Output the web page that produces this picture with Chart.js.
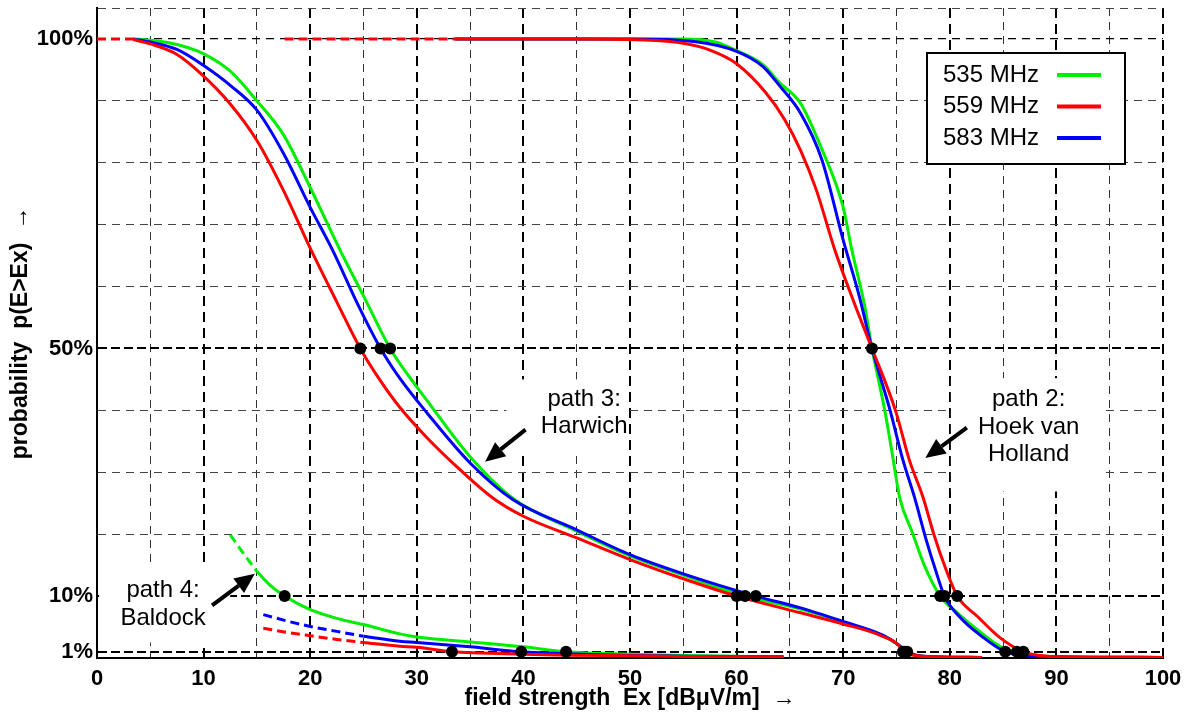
<!DOCTYPE html>
<html>
<head>
<meta charset="utf-8">
<script src="https://cdn.jsdelivr.net/npm/chart.js@4.4.0/dist/chart.umd.min.js"></script>
<style>
  html, body { margin: 0; padding: 0; background: #fff; }
  #c { display: block; }
</style>
</head>
<body>
<canvas id="c" width="1184" height="713"></canvas>
<script>
// [field strength dBuV/m, probability %]

// path 3: Harwich
const harwich559Dash = [[0, 100], [3.4, 100]];
const harwich559 = [[3.4, 99.9], [5, 99.2], [7.5, 97.5], [10, 94], [12.5, 89.5], [15, 83.6], [17.5, 75.5], [20, 66.2], [22.5, 57.5], [24.7, 50], [26.5, 45], [28.4, 40.5], [31, 35.5], [34, 30.5], [37.1, 25.9], [40, 22.9], [45, 19.4], [50, 15.9], [55, 12.8], [60, 10], [66, 7.3], [70, 5.5], [73.7, 3.5], [75.3, 1.9], [75.6, 1], [77.5, 0.3], [83, 0.1]];
const harwich583 = [[3.4, 100], [5, 99.5], [7.5, 98.3], [10, 95.7], [12.5, 92.5], [15, 88.5], [17.5, 81.5], [20, 72.8], [22.1, 65.9], [24.5, 57], [26.6, 50], [28.4, 45.2], [31, 39.5], [35, 31.5], [39, 25.6], [45, 20.7], [50, 16.7], [55, 13.6], [61.8, 10], [66, 8.1], [70, 5.9], [73.7, 3.7], [75.3, 2], [76, 1], [77.5, 0.3], [83, 0.1]];
const harwich535 = [[3.4, 100], [5, 99.8], [7.5, 99.1], [10, 97.6], [12.5, 94.8], [15, 90], [17.5, 84.5], [20, 76], [22.8, 65.9], [25, 58.5], [27.5, 50], [28.4, 47.6], [31, 41.5], [35, 32.5], [39, 25.8], [45, 20.5], [50, 16.5], [55, 13.4], [60.8, 10], [66, 7.9], [70, 5.8], [73.7, 3.6], [75.3, 1.9], [75.8, 1], [77.5, 0.3], [83, 0.1]];

// path 2: Hoek van Holland
const hoek559Dash = [[17.6, 100], [33.6, 100]];
const hoek559 = [[33.6, 100], [45, 100], [52, 99.8], [55, 99.3], [57.5, 98.2], [60, 96], [62.8, 91.2], [64.5, 87], [66, 82], [67.5, 75.5], [69.2, 66], [71, 57.5], [72.7, 50], [74.9, 40], [76.2, 32], [77.5, 25.9], [78.5, 20], [79.6, 14.5], [80.7, 10], [82.6, 6.7], [84.7, 3.3], [86.9, 1], [88.5, 0.4], [90, 0.2], [100, 0.1]];
const hoek583 = [[33.6, 100], [50, 100], [56, 99.6], [60, 98], [62.5, 95.5], [64, 92.5], [66, 88], [68, 80.5], [70, 67.5], [71.5, 58.5], [72.7, 50], [74.4, 40], [75.6, 32], [76.7, 25.9], [77.8, 19], [78.7, 14], [79.5, 10], [81, 6.5], [83, 3.5], [85.2, 1], [87, 0.4], [90, 0.2], [100, 0.1]];
const hoek535 = [[33.6, 100], [55, 100], [58, 99.5], [60, 98.1], [62.5, 95.8], [64, 93], [66, 89.6], [67.8, 83], [70, 72.8], [70.8, 66], [72, 57], [72.7, 50], [73.9, 40], [74.6, 33], [75.3, 25.9], [76.5, 20.2], [77.6, 15], [79.1, 10], [80.7, 7.3], [83, 4], [84.7, 1.9], [86.3, 1], [88, 0.4], [90, 0.2], [100, 0.1]];

// path 4: Baldock
const baldock535Dash = [[12.5, 19.9], [13.7, 17], [15, 14]];
const baldock535 = [[15, 14], [16.2, 11.8], [17.6, 10], [20, 7.8], [22.5, 6.4], [25, 5.4], [28.4, 3.9], [30, 3.4], [35, 2.6], [40, 1.8], [44, 1], [50, 0.6], [55, 0.4], [64.4, 0.2]];
const baldock583Dash = [[15.6, 7], [18, 5.9], [20, 5.1], [22.5, 4.3], [25, 3.5]];
const baldock583 = [[25, 3.5], [28.4, 2.7], [30, 2.5], [35, 1.8], [39.8, 1], [44, 0.7], [50, 0.4], [55, 0.3], [64.4, 0.2]];
const baldock559Dash = [[15.6, 4.8], [18, 4.1], [20, 3.6], [22.5, 3], [25, 2.5]];
const baldock559 = [[25, 2.5], [28.4, 1.9], [30, 1.75], [33.3, 1], [36, 0.8], [40, 0.6], [44, 0.45], [50, 0.35], [55, 0.25], [64.4, 0.2]];

// crossing points marked with dots
const dots50 = [24.7, 26.6, 27.5, 72.7];
const dots10 = [17.6, 60.0, 60.8, 61.8, 79.1, 79.5, 80.7];
const dots1 = [33.3, 39.8, 44.0, 75.6, 75.8, 76.0, 85.2, 86.3, 86.9];

const legendLabels = ['535 MHz', '559 MHz', '583 MHz'];
const legendColors = ['#00ee00', '#ff0000', '#0000ff'];
const yTickValues = [0, 1, 10, 20, 30, 40, 50, 60, 70, 80, 90, 100, 105];
const yTickLabels = { 1: '1%', 10: '10%', 50: '50%', 100: '100%' };

const GREEN = legendColors[0], RED = legendColors[1], BLUE = legendColors[2];
const FONT = '"Liberation Sans", Arial, Helvetica, sans-serif';
Chart.defaults.font.family = FONT;
Chart.defaults.color = '#000';

function curve(data, color, dashed) {
  return {
    type: 'line',
    data: data.map(p => ({ x: p[0], y: p[1] })),
    borderColor: color,
    borderWidth: 3,
    borderDash: dashed ? [9, 5] : [],
    pointRadius: 0,
    fill: false,
    cubicInterpolationMode: 'monotone'
  };
}

const dotPoints = [];
dots50.forEach(v => dotPoints.push({ x: v, y: 50 }));
dots10.forEach(v => dotPoints.push({ x: v, y: 10 }));
dots1.forEach(v => dotPoints.push({ x: v, y: 1 }));

// first dataset is drawn on top
const datasets = [
  { type: 'scatter', data: dotPoints, pointRadius: 6, pointBackgroundColor: '#000', pointBorderWidth: 0, showLine: false },
  curve(harwich559Dash, RED, true), curve(harwich559, RED),
  curve(hoek559Dash, RED, true), curve(hoek559, RED),
  curve(baldock559Dash, RED, true), curve(baldock559, RED),
  curve(harwich583, BLUE), curve(hoek583, BLUE),
  curve(baldock583Dash, BLUE, true), curve(baldock583, BLUE),
  curve(harwich535, GREEN), curve(hoek535, GREEN),
  curve(baldock535Dash, GREEN, true), curve(baldock535, GREEN)
];

// text annotations, in data units
const notes = [
  { lines: ['path 3:', 'Harwich'], at: [45.7, 41.8], box: [38.4, 49.7, 33.3, 45.0], tail: [40.2, 36.9], tip: [36.4, 31.7] },
  { lines: ['path 2:', 'Hoek van', 'Holland'], at: [87.4, 41.7], box: [80.1, 94.6, 26.9, 45.2], tail: [81.6, 37.2], tip: [77.7, 32.3] },
  { lines: ['path 4:', 'Baldock'], at: [6.2, 10.9], box: [0.2, 12.5, 2.5, 14.8], tail: [10.8, 8.5], tip: [14.8, 13.6] }
];

function arrow(ctx, x1, y1, x2, y2) {
  const a = Math.atan2(y2 - y1, x2 - x1), hl = 20, hw = 9;
  const bx = x2 - hl * Math.cos(a), by = y2 - hl * Math.sin(a);
  ctx.strokeStyle = '#000';
  ctx.fillStyle = '#000';
  ctx.lineWidth = 4;
  ctx.beginPath(); ctx.moveTo(x1, y1); ctx.lineTo(bx, by); ctx.stroke();
  ctx.beginPath();
  ctx.moveTo(x2, y2);
  ctx.lineTo(bx + hw * Math.sin(a), by - hw * Math.cos(a));
  ctx.lineTo(bx - hw * Math.sin(a), by + hw * Math.cos(a));
  ctx.closePath();
  ctx.fill();
}

const notesPlugin = {
  id: 'notes',
  beforeDatasetsDraw(chart) {
    const { ctx, scales: { x, y } } = chart;
    ctx.save();
    notes.forEach(n => {
      const bx1 = x.getPixelForValue(n.box[0]), bx2 = x.getPixelForValue(n.box[1]);
      const by1 = y.getPixelForValue(n.box[3]), by2 = y.getPixelForValue(n.box[2]);
      ctx.fillStyle = '#fff';
      ctx.fillRect(bx1, by1, bx2 - bx1, by2 - by1);
      ctx.fillStyle = '#000';
      ctx.font = '24px ' + FONT;
      ctx.textAlign = 'center';
      ctx.textBaseline = 'middle';
      const tx = x.getPixelForValue(n.at[0]), ty = y.getPixelForValue(n.at[1]);
      n.lines.forEach((t, i) => ctx.fillText(t, tx, ty + i * 27.5));
      arrow(ctx, x.getPixelForValue(n.tail[0]), y.getPixelForValue(n.tail[1]),
        x.getPixelForValue(n.tip[0]), y.getPixelForValue(n.tip[1]));
    });
    ctx.restore();
  }
};

const legendPlugin = {
  id: 'boxLegend',
  afterDraw(chart) {
    const { ctx, chartArea } = chart;
    const w = 198, h = 111;
    const left = chartArea.right - 38 - w, top = chartArea.top + 45;
    ctx.save();
    ctx.fillStyle = '#fff';
    ctx.fillRect(left, top, w, h);
    ctx.strokeStyle = '#000';
    ctx.lineWidth = 2;
    ctx.strokeRect(left, top, w, h);
    ctx.font = '24px ' + FONT;
    ctx.textAlign = 'left';
    ctx.textBaseline = 'middle';
    legendLabels.forEach((t, i) => {
      const yy = top + 22 + i * 31.5;
      ctx.fillStyle = '#000';
      ctx.fillText(t, left + 16, yy);
      ctx.strokeStyle = legendColors[i];
      ctx.lineWidth = 4;
      ctx.beginPath();
      ctx.moveTo(left + 130, yy);
      ctx.lineTo(left + 174, yy);
      ctx.stroke();
    });
    ctx.restore();
  }
};

const strongY = [1, 10, 50];

new Chart(document.getElementById('c'), {
  type: 'line',
  data: { datasets },
  plugins: [notesPlugin, legendPlugin],
  options: {
    responsive: false,
    animation: false,
    devicePixelRatio: 1,
    layout: { padding: { top: 8, right: 21, left: 0, bottom: 0 } },
    plugins: { legend: { display: false }, tooltip: { enabled: false } },
    scales: {
      x: {
        type: 'linear',
        min: 0,
        max: 100,
        ticks: {
          stepSize: 5,
          autoSkip: false,
          maxRotation: 0,
          padding: 8,
          font: { size: 22, weight: 'bold' },
          callback: v => (v % 10 === 0 ? String(v) : '')
        },
        grid: {
          drawTicks: false,
          color: c => (c.tick && c.tick.value === 0 ? 'rgba(0,0,0,0)' : (c.tick && c.tick.value % 10 === 0 ? '#000' : '#333')),
          lineWidth: c => (c.tick && c.tick.value % 10 === 0 ? 2 : 1)
        },
        border: {
          display: true, color: '#000', width: 2,
          dash: c => (c.tick && c.tick.value % 10 === 0 ? [10, 6] : [8, 6])
        },
        title: {
          display: true,
          text: 'field strength  Ex [dBμV/m]  →',
          font: { size: 23, weight: 'bold' },
          padding: { top: 0, bottom: 1 }
        },
        afterFit: s => { s.height = 55; s.paddingLeft = 0; s.paddingRight = 0; }
      },
      y: {
        type: 'linear',
        min: 0,
        max: 105,
        afterBuildTicks: axis => { axis.ticks = yTickValues.map(v => ({ value: v })); },
        ticks: {
          autoSkip: false,
          padding: 4,
          font: { size: 22, weight: 'bold' },
          callback: v => yTickLabels[v] || ''
        },
        grid: {
          drawTicks: false,
          color: c => {
            const v = c.tick ? c.tick.value : -1;
            if (v === 0) return 'rgba(0,0,0,0)';
            return strongY.includes(v) || v === 100 ? '#000' : '#444';
          },
          lineWidth: c => {
            const v = c.tick ? c.tick.value : -1;
            if (strongY.includes(v)) return 2;
            return v === 100 ? 1.3 : 1;
          }
        },
        border: {
          display: true, color: '#000', width: 2,
          dash: c => (c.tick && strongY.includes(c.tick.value) ? [9, 4] : [8, 6])
        },
        title: {
          display: true,
          text: 'probability  p(E>Ex)  →',
          font: { size: 23, weight: 'bold' },
          padding: { top: 7, bottom: 0 }
        },
        afterFit: s => { s.width = 97; s.paddingTop = 0; s.paddingBottom = 0; }
      }
    }
  }
});
</script>
</body>
</html>
